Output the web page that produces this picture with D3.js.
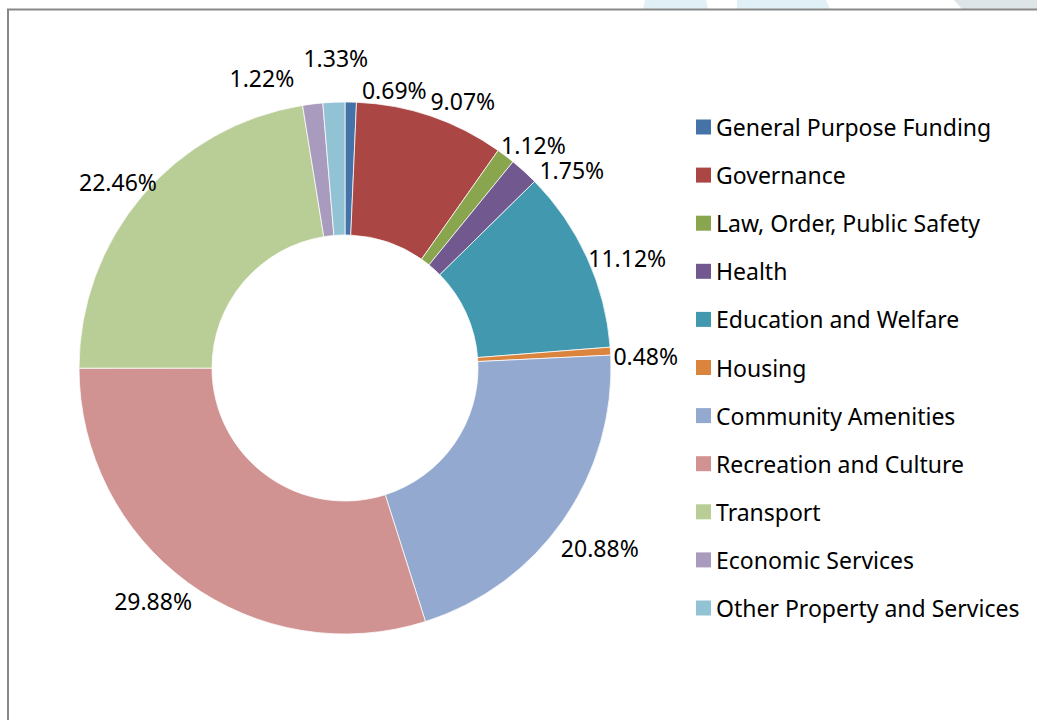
<!DOCTYPE html>
<html>
<head>
<meta charset="utf-8">
<script src="https://cdn.jsdelivr.net/npm/d3@7"></script>
<style>
  body { margin: 0; background: #fff; }
  svg { display: block; font-family: "Noto Sans", "Open Sans", sans-serif; }
</style>
</head>
<body>
<svg id="drawing_region"></svg>
<script>
// data (percent of total)
const categories = [
    "General Purpose Funding", "Governance", "Law, Order, Public Safety", "Health",
    "Education and Welfare", "Housing", "Community Amenities", "Recreation and Culture",
    "Transport", "Economic Services", "Other Property and Services"
];
const shares = [0.69, 9.07, 1.12, 1.75, 11.12, 0.48, 20.88, 29.88, 22.46, 1.22, 1.33];
const colors = ["#4572a7", "#aa4643", "#89a54e", "#71588f", "#4198af", "#db843d",
                "#93a9cf", "#d19392", "#b9cd96", "#a99bbd", "#92c3d5"];

// label nudges [degrees, px] so crowded labels do not collide (like Excel does)
const labelNudge = [[8.8, -1], [5, -1], [3, -8], [6.6, -1], [3.2, -9], [1.3, -4],
                    [0.5, 2], [3.3, -2], [-1, -15], [-9, 15], [0.7, 26]];

const width = 1037, height = 720;
const cx = 345, cy = 368, outerR = 266, innerR = 133;

const svg = d3.select('#drawing_region')
    .attr('width', width)
    .attr('height', height);

// faint header shapes above the frame
svg.append('g').selectAll('polygon')
    .data([["#e1f0f7", [[645, 0], [706, 0], [708, 9], [643, 9]]],
           ["#e1f0f7", [[737, 0], [826, 0], [830, 9], [737, 9]]],
           ["#dde5e8", [[954, 0], [1037, 0], [1037, 9], [962, 9]]]])
    .join('polygon')
    .attr('points', d => d[1].map(p => p.join(',')).join(' '))
    .attr('fill', d => d[0]);

// chart frame
svg.append('rect')
    .attr('x', 8).attr('y', 9.5)
    .attr('width', width + 20).attr('height', height + 20)
    .attr('fill', 'none')
    .attr('stroke', '#888')
    .attr('stroke-width', 2);

const data = categories.map((c, i) => ({ name: c, value: shares[i], color: colors[i], i: i }));

const pie = d3.pie().sort(null).value(d => d.value);
const arcs = pie(data);

const arc = d3.arc().innerRadius(innerR).outerRadius(outerR);

const chart = svg.append('g')
    .attr('transform', `translate(${cx}, ${cy})`);

chart.selectAll('path')
    .data(arcs)
    .join('path')
    .attr('d', arc)
    .attr('fill', d => d.data.color)
    .attr('stroke', '#fff')
    .attr('stroke-width', 0.75);

// labels outside the ring
const fontSize = 23;
const labels = chart.selectAll('text.pct')
    .data(arcs)
    .join('text')
    .attr('class', 'pct')
    .attr('text-anchor', 'middle')
    .attr('dominant-baseline', 'central')
    .style('font-size', fontSize + 'px')
    .attr('fill', '#000')
    .text(d => d.data.value.toFixed(2) + '%');

labels.each(function(d) {
    const bb = this.getBBox();
    const hw = bb.width / 2, hh = 11;
    const nudge = labelNudge[d.data.i];
    const mid = (d.startAngle + d.endAngle) / 2;
    const a = mid + nudge[0] * Math.PI / 180;
    const dist = outerR + 6 + hw * Math.abs(Math.sin(mid)) + hh * Math.abs(Math.cos(mid)) + nudge[1];
    d3.select(this)
        .attr('x', dist * Math.sin(a))
        .attr('y', -dist * Math.cos(a));
});

// legend
const legend = svg.append('g')
    .attr('transform', 'translate(696, 127)');

const rows = legend.selectAll('g')
    .data(data)
    .join('g')
    .attr('transform', (d, i) => `translate(0, ${i * 48.1})`);

rows.append('rect')
    .attr('x', 0).attr('y', -7.5)
    .attr('width', 15).attr('height', 15)
    .attr('fill', d => d.color);

rows.append('text')
    .attr('x', 20)
    .attr('dominant-baseline', 'central')
    .style('font-size', fontSize + 'px')
    .attr('fill', '#000')
    .text(d => d.name);
</script>
</body>
</html>
